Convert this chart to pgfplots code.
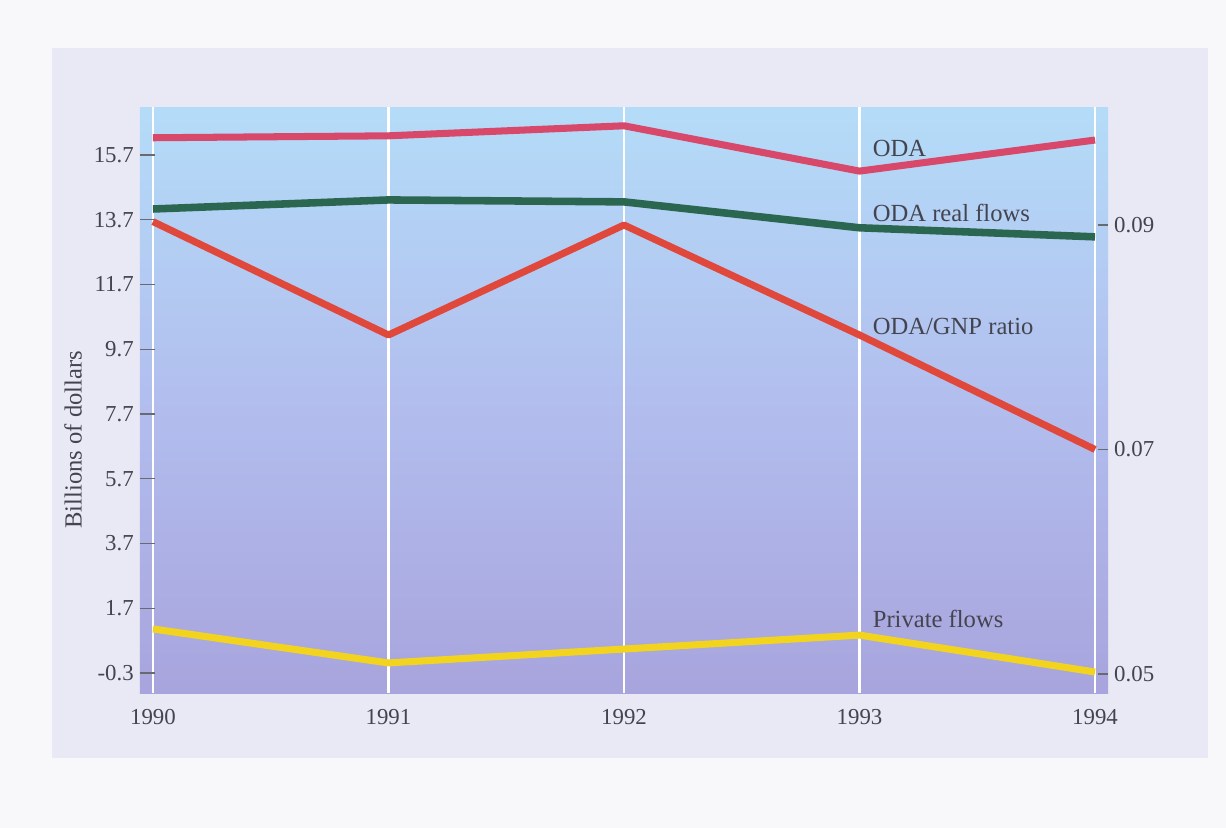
\documentclass[border=0pt]{standalone}
\usepackage{fontspec}
\setmainfont{Liberation Serif}
\usepackage{pgfplots}
\pgfplotsset{compat=1.18}
\definecolor{pagebg}{HTML}{F8F8FB}
\definecolor{panelbg}{HTML}{E9E8F5}
\definecolor{bgtop}{HTML}{B4DCF8}
\definecolor{bgmid}{HTML}{B2BEEE}
\definecolor{bgbot}{HTML}{A8A4DD}
\definecolor{labelgray}{HTML}{44444F}
\definecolor{odacol}{HTML}{D8486A}
\definecolor{realcol}{HTML}{2A6650}
\definecolor{ratiocol}{HTML}{E0483C}
\definecolor{privcol}{HTML}{F2D41E}
\begin{document}
\begin{tikzpicture}
\fill[pagebg] (0,0) rectangle (24.52cm,16.56cm);
\fill[panelbg] (1.04cm,1.4cm) rectangle (24.16cm,15.6cm);
\begin{axis}[
  at={(2.8cm,2.7cm)}, anchor=south west,
  scale only axis, width=19.36cm, height=11.72cm,
  xmin=1989.945, xmax=1994.055,
  ymin=-0.918, ymax=17.18,
  axis background/.style={top color=bgtop, bottom color=bgbot, middle color=bgmid},
  axis line style={draw=none},
  xtick={1990,1991,1992,1993,1994},
  xticklabels={1990,1991,1992,1993,1994},
  ytick={-0.3,1.7,3.7,5.7,7.7,9.7,11.7,13.7,15.7},
  yticklabels={-0.3,1.7,3.7,5.7,7.7,9.7,11.7,13.7,15.7},
  ytick pos=left, xtick pos=bottom,
  xmajorgrids, grid style={white, line width=1.3pt},
  xtick style={draw=none},
  ytick style={draw=labelgray!80, line width=0.7pt},
  tick align=inside, major tick length=0.3cm,
  ticklabel style={font=\fontsize{13}{15}\selectfont, text=labelgray},
  xticklabel style={yshift=-6pt},
  ylabel={Billions of dollars},
  every axis y label/.style={at={(axis description cs:-0.069,0.432)}, rotate=90, anchor=center, font=\fontsize{14}{16}\selectfont, text=labelgray},
  clip=false,
]
\addplot[odacol, line width=4pt, line join=round] coordinates {(1990,16.23) (1991,16.29) (1992,16.6) (1993,15.2) (1994,16.16)};
\addplot[realcol, line width=4.3pt, line join=round] coordinates {(1990,14.03) (1991,14.31) (1992,14.25) (1993,13.45) (1994,13.17)};
\addplot[privcol, line width=4pt, line join=round] coordinates {(1990,1.06) (1991,0.01) (1992,0.44) (1993,0.87) (1994,-0.27)};
\node[anchor=base west, inner sep=0pt, font=\fontsize{14}{16}\selectfont, text=labelgray] at (axis cs:1993.055,15.64) {ODA};
\node[anchor=base west, inner sep=0pt, font=\fontsize{14}{16}\selectfont, text=labelgray] at (axis cs:1993.055,13.63) {ODA real flows};
\node[anchor=base west, inner sep=0pt, font=\fontsize{14}{16}\selectfont, text=labelgray] at (axis cs:1993.055,10.14) {ODA/GNP ratio};
\node[anchor=base west, inner sep=0pt, font=\fontsize{14}{16}\selectfont, text=labelgray] at (axis cs:1993.055,1.12) {Private flows};
\end{axis}
\begin{axis}[
  at={(2.8cm,2.7cm)}, anchor=south west,
  scale only axis, width=19.36cm, height=11.72cm,
  xmin=1989.945, xmax=1994.055,
  ymin=0.04831, ymax=0.10051,
  axis y line*=right, hide x axis,
  axis line style={draw=none},
  ytick={0.05,0.07,0.09},
  yticklabels={0.05,0.07,0.09},
  ytick style={draw=labelgray!80, line width=0.7pt},
  tick align=inside, major tick length=0.2cm,
  ticklabel style={font=\fontsize{13}{15}\selectfont, text=labelgray},
]
\addplot[ratiocol, line width=4pt, line join=round] coordinates {(1990,0.0903) (1991,0.0802) (1992,0.0900) (1993,0.0802) (1994,0.0700)};
\end{axis}
\end{tikzpicture}
\end{document}
